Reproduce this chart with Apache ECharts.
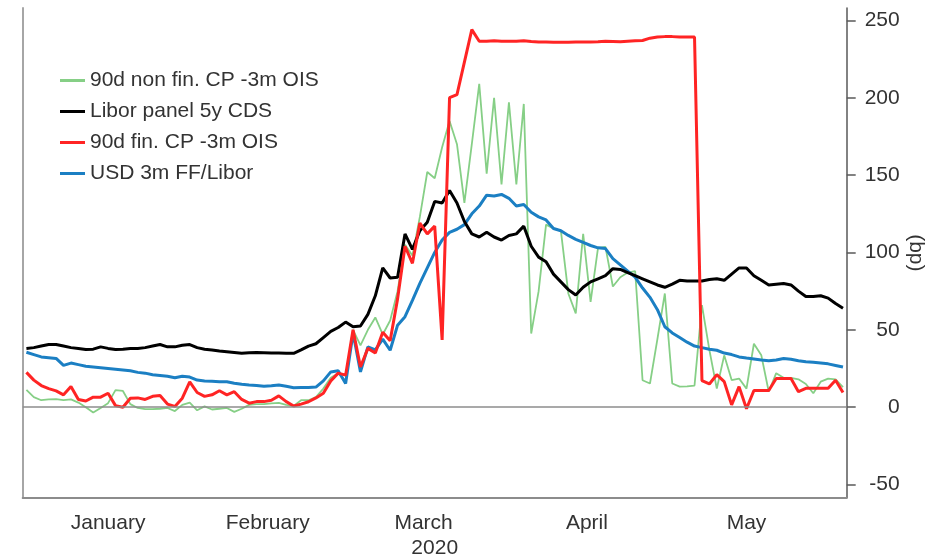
<!DOCTYPE html>
<html>
<head>
<meta charset="utf-8">
<script src="https://cdn.jsdelivr.net/npm/echarts@6/dist/echarts.min.js"></script>
<style>
  html, body { margin: 0; padding: 0; background: #fff; }
  #chart { width: 931px; height: 558px; }
</style>
</head>
<body>
<div id="chart"></div>
<script>
  // business days, Jan 1 - Jun 3 2020
  const dates = [
    '2020-01-01','2020-01-02','2020-01-03','2020-01-06','2020-01-07','2020-01-08','2020-01-09','2020-01-10',
    '2020-01-13','2020-01-14','2020-01-15','2020-01-16','2020-01-17','2020-01-20','2020-01-21','2020-01-22',
    '2020-01-23','2020-01-24','2020-01-27','2020-01-28','2020-01-29','2020-01-30','2020-01-31',
    '2020-02-03','2020-02-04','2020-02-05','2020-02-06','2020-02-07','2020-02-10','2020-02-11','2020-02-12',
    '2020-02-13','2020-02-14','2020-02-17','2020-02-18','2020-02-19','2020-02-20','2020-02-21','2020-02-24',
    '2020-02-25','2020-02-26','2020-02-27','2020-02-28',
    '2020-03-02','2020-03-03','2020-03-04','2020-03-05','2020-03-06','2020-03-09','2020-03-10','2020-03-11',
    '2020-03-12','2020-03-13','2020-03-16','2020-03-17','2020-03-18','2020-03-19','2020-03-20','2020-03-23',
    '2020-03-24','2020-03-25','2020-03-26','2020-03-27','2020-03-30','2020-03-31',
    '2020-04-01','2020-04-02','2020-04-03','2020-04-06','2020-04-07','2020-04-08','2020-04-09','2020-04-10',
    '2020-04-13','2020-04-14','2020-04-15','2020-04-16','2020-04-17','2020-04-20','2020-04-21','2020-04-22',
    '2020-04-23','2020-04-24','2020-04-27','2020-04-28','2020-04-29','2020-04-30',
    '2020-05-01','2020-05-04','2020-05-05','2020-05-06','2020-05-07','2020-05-08','2020-05-11','2020-05-12',
    '2020-05-13','2020-05-14','2020-05-15','2020-05-18','2020-05-19','2020-05-20','2020-05-21','2020-05-22',
    '2020-05-25','2020-05-26','2020-05-27','2020-05-28','2020-05-29',
    '2020-06-01','2020-06-02','2020-06-03'
  ]
  const monthLabels = ['January', 'February', 'March', 'April', 'May']
  const yTicks = [-50, 0, 50, 100, 150, 200, 250]

  const nonFinCp = [
    11.2, 6.5, 4.5, 5, 5.2, 4.5, 5, 3, 0, -3.5, -0.5, 2.6, 11, 10.5, 2, -0.5, -1.3, -1.3, -1, -0.5, -2.5, 1.5, 3,
    -2, 0.5, -1.5, -1, -0.5, -3, -1, 1.5, 2, 2, 2.5, 2.8, 1.5, 0.8, 4.5, 4.5, 6.5, 12, 19, 22,
    17, 50, 40, 50, 58, 47, 56, 75, 105, 98, 123, 152, 148, 168, 185, 170, 132, 170, 209, 151, 200, 144,
    197, 144, 196, 47.6, 75, 118, 115.5, 114, 73.5, 60.6, 112, 68, 103, 103.6, 78, 84, 87, 88, 17.4, 15.3, 44, 73.5,
    15.3, 13.3, 13.5, 14, 66, 37, 12, 33.5, 17.5, 18.5, 12, 41, 33.5, 10, 22, 19, 19, 18, 15, 9, 16.5,
    18.5, 18, 13
  ]
  const liborCds = [
    38, 38.5, 39.5, 40.5, 40.5, 39.5, 38.5, 38, 37.3, 37.5, 39, 38, 37.3, 37.5, 38, 38, 38.5, 39.5, 40.5, 39, 39, 40, 40.5,
    38.5, 37.5, 37, 36.3, 35.8, 35.3, 34.8, 35.2, 35.3, 35.2, 35.1, 35, 34.8, 34.8, 37, 39.5, 41, 45, 49, 51.5,
    55, 52, 52.5, 60, 72, 90, 83.5, 84, 112, 102, 114, 119.5, 133, 132, 140, 132, 120, 112, 110, 113, 110, 108,
    111, 112, 117, 104, 97, 94, 86, 81, 76, 72.5, 77.5, 81, 83, 85, 89.5, 89, 87, 85, 83, 81, 79, 77.5,
    79.5, 82, 81.5, 81.6, 81.6, 82.5, 83, 82, 86, 90, 90, 85, 82, 79, 79.5, 80, 79, 75, 71.5, 71.5, 72,
    70.5, 67, 64
  ]
  const finCp = [
    22.5, 17.5, 14, 12, 10.5, 8, 13.3, 5, 4, 6.5, 6.5, 9, 1, 0, 5.8, 6, 5, 7, 7.5, 2, 0.5, 5.8, 16.4,
    9.5, 7, 8, 10.6, 8, 10, 5, 2.6, 3.6, 3.6, 4.5, 7.3, 3.6, 0.8, 2, 3.5, 6, 9, 17, 22,
    20.7, 50, 26, 38, 35, 48.5, 43, 70, 104, 93, 119, 112, 117, 43.5, 200, 202, 223, 244, 236.5, 236.5, 236.8, 236.5,
    236.5, 236.5, 236.8, 236.3, 236, 236, 235.8, 235.8, 235.8, 236, 236, 236, 236.2, 236.5, 236.4, 236.2, 236.5, 236.8, 237, 238.5, 239.3, 239.5,
    239.5, 239.3, 239.3, 239.3, 17.2, 15, 21, 16.5, 1.5, 13.3, -1, 10.8, 10.8, 10.8, 18.5, 18.5, 18.5, 10, 12.2, 12.2, 12.2,
    12.2, 17.4, 9.5
  ]
  const ffLibor = [
    35.5, 34, 32.5, 32, 31.5, 27, 28.5, 27.5, 26.5, 26, 25.5, 25, 24.5, 24, 23.5, 22.5, 22, 21, 20.5, 20, 19, 20, 19.5,
    17.5, 17, 16.8, 16.5, 16.4, 15.5, 14.8, 14.3, 14, 13.5, 13.8, 14.3, 13.5, 12.6, 12.8, 12.8, 13, 17, 22.8, 23.5,
    15.3, 48, 22.8, 39, 37, 44, 36.8, 53, 58.5, 69, 80, 90, 100, 108, 113, 115, 118, 125, 130, 137, 136.5, 137.5,
    135, 130, 131, 126, 123, 121, 115.5, 114, 111, 108.5, 106.5, 104.5, 103, 102.5, 96, 92, 88, 84, 77, 71, 63, 52,
    48, 45, 42, 39.5, 38.5, 37.5, 36.8, 35, 34, 32.5, 31.8, 31.2, 30.5, 30, 30.5, 31.5, 31, 30, 29.3, 29, 28.5,
    28, 27, 26
  ]

  const font = 'Liberation Sans, Arial, sans-serif'
  const textColor = '#333'
  const fontSize = 21
  const bandWidth = 824 / dates.length

  function monthOf(i) {
    return +dates[i].slice(5, 7)
  }

  // month name goes in the middle of its month
  const firstIdx = {}
  const lastIdx = {}
  dates.forEach((d, i) => {
    const m = monthOf(i)
    if (firstIdx[m] === undefined) firstIdx[m] = i
    lastIdx[m] = i
  })
  const labelAt = {}
  monthLabels.forEach((name, k) => {
    const mid = (firstIdx[k + 1] + lastIdx[k + 1]) / 2
    labelAt[Math.floor(mid)] = { name: name, half: mid % 1 !== 0 }
  })

  const chart = echarts.init(document.getElementById('chart'))
  chart.setOption({
    animation: false,
    grid: {
      left: 22.7,
      right: 84.3,
      top: 8,
      bottom: 60.3,
      outerBoundsMode: 'none'
    },
    legend: {
      orient: 'vertical',
      left: 55,
      top: 65,
      itemWidth: 25,
      itemHeight: 3,
      itemGap: 10,
      icon: 'rect',
      textStyle: { fontSize: fontSize, lineHeight: 20, color: textColor, fontFamily: font },
      data: ['90d non fin. CP -3m OIS', 'Libor panel 5y CDS', '90d fin. CP -3m OIS', 'USD 3m FF/Libor']
    },
    xAxis: {
      type: 'category',
      data: dates,
      boundaryGap: true,
      axisLine: { onZero: false, lineStyle: { color: '#8c8c8c', width: 2 } },
      axisTick: {
        length: 4,
        interval: (i) => i === 0 || monthOf(i) !== monthOf(i - 1),
        lineStyle: { color: '#8c8c8c', width: 2 }
      },
      axisLabel: {
        interval: (i) => labelAt[i] !== undefined,
        formatter: (v, i) => {
          const l = labelAt[i]
          if (!l) return ''
          return l.half ? '{h|' + l.name + '}' : l.name
        },
        rich: {
          h: { padding: [0, 0, 0, bandWidth], fontSize: fontSize, color: textColor, fontFamily: font }
        },
        margin: 15,
        fontSize: fontSize,
        color: textColor,
        fontFamily: font
      },
      name: '2020',
      nameLocation: 'middle',
      nameGap: 40,
      nameMoveOverlap: false,
      nameTextStyle: { fontSize: fontSize, color: textColor, fontFamily: font }
    },
    yAxis: [{
      type: 'value',
      position: 'right',
      min: -58.5,
      max: 258,
      splitLine: { show: false },
      axisLine: { show: true, lineStyle: { color: '#595959', width: 1.5 } },
      axisTick: { show: true, length: 9, customValues: yTicks, lineStyle: { color: '#595959', width: 1.5 } },
      axisLabel: {
        customValues: yTicks,
        align: 'right',
        margin: 53,
        fontSize: fontSize,
        color: textColor,
        fontFamily: font
      },
      name: '(bp)',
      nameLocation: 'middle',
      nameRotate: -90,
      nameGap: 59,
      nameMoveOverlap: false,
      nameTextStyle: { fontSize: fontSize, color: textColor, fontFamily: font }
    }, {
      type: 'value',
      position: 'left',
      min: -58.5,
      max: 258,
      splitLine: { show: false },
      axisLine: { show: true, onZero: false, lineStyle: { color: '#a6a6a6', width: 2 } },
      axisTick: { show: false },
      axisLabel: { show: false }
    }],
    series: [{
      name: '90d non fin. CP -3m OIS',
      type: 'line',
      data: nonFinCp,
      symbol: 'none',
      color: '#86cf86',
      lineStyle: { width: 1.8 },
      markLine: {
        silent: true,
        symbol: 'none',
        label: { show: false },
        lineStyle: { color: '#8c8c8c', width: 1.5, type: 'solid' },
        data: [{ yAxis: 0 }]
      }
    }, {
      name: 'USD 3m FF/Libor',
      type: 'line',
      data: ffLibor,
      symbol: 'none',
      color: '#1b7fc3',
      lineStyle: { width: 3 }
    }, {
      name: 'Libor panel 5y CDS',
      type: 'line',
      data: liborCds,
      symbol: 'none',
      color: '#000000',
      lineStyle: { width: 3 }
    }, {
      name: '90d fin. CP -3m OIS',
      type: 'line',
      data: finCp,
      symbol: 'none',
      color: '#ff2424',
      lineStyle: { width: 3 }
    }]
  })
</script>
</body>
</html>
